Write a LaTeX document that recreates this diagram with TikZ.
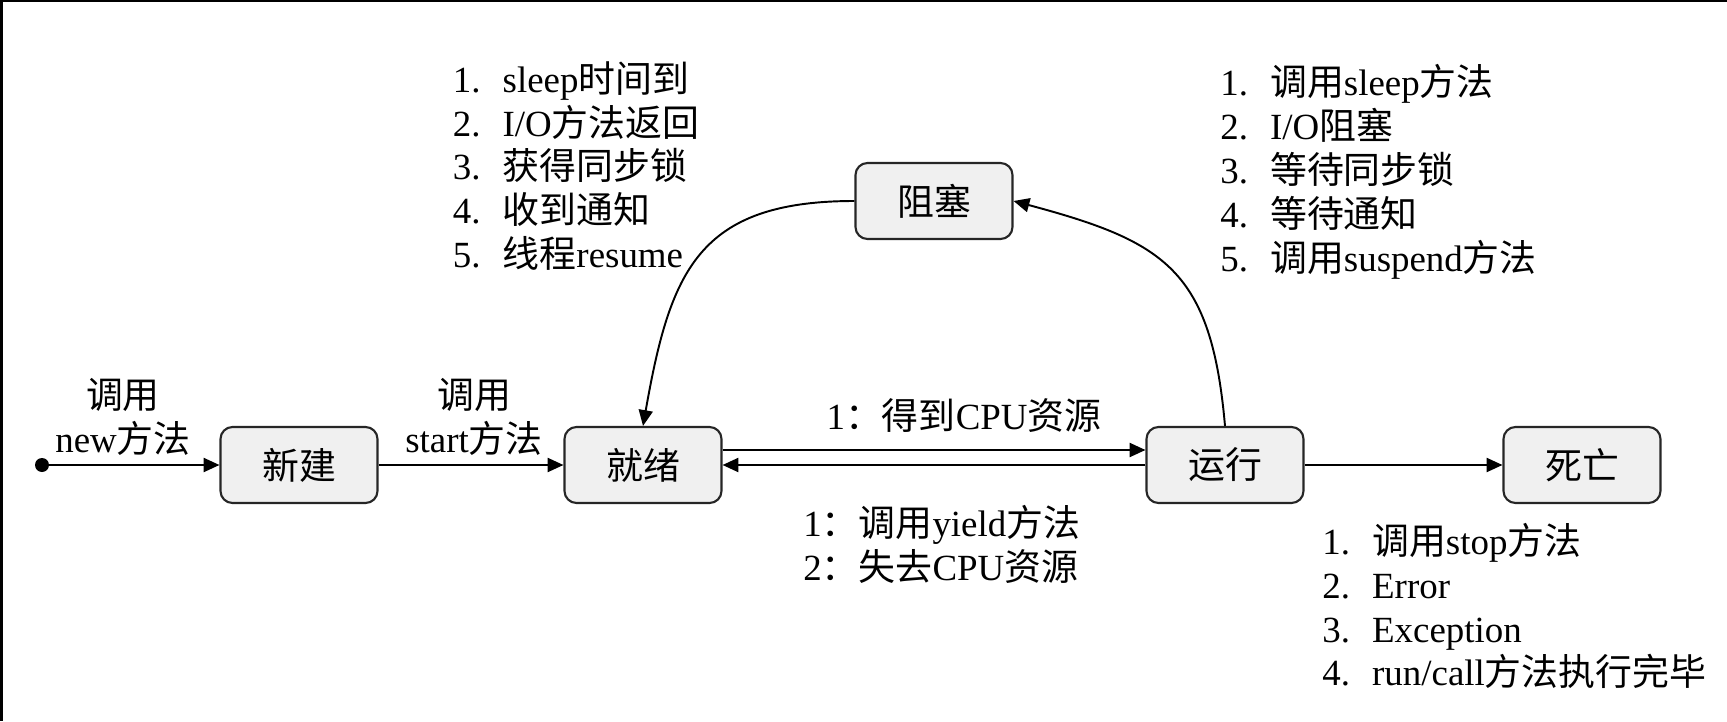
\documentclass[tikz,border=0pt]{standalone}
\usepackage{fontspec}
\setmainfont{Liberation Serif}
\newfontfamily\cjk{Noto Sans CJK SC}
\newcommand\zh[1]{{\cjk #1}}
\newcommand\itemno[1]{\makebox[1.35em][l]{#1}}
\usetikzlibrary{arrows.meta}

\begin{document}
\begin{tikzpicture}[
    statebox/.style = {draw = black!85, line width = 1.2pt, fill = black!6, rounded corners = 0.24cm,
        minimum width = 3.14cm, minimum height = 1.52cm, inner sep = 0pt, font = \fontsize{21}{25}\selectfont\cjk},
    flow/.style = {-{Triangle[length = 9pt, width = 8pt]}, line width = 1.1pt},
    notes/.style = {align = left, inner sep = 0pt, font = \fontsize{21}{25}\selectfont}
  ]
    \useasboundingbox (0, 0) rectangle (34.54, 14.42);
    \fill [black] (0, 14.37) rectangle (34.54, 14.42);
    \fill [black] (0, 0) rectangle (0.05, 14.42);
    \draw (0.84, 5.12) node[circle, inner sep = 0pt, minimum size = 0.28cm, fill = black] (start) {};
    \node [statebox] at (5.98, 5.12) (xinjian) {新建};
    \node [statebox] at (12.86, 5.12) (jiuxu) {就绪};
    \node [statebox] at (24.5, 5.12) (yunxing) {运行};
    \node [statebox] at (31.64, 5.12) (siwang) {死亡};
    \node [statebox] at (18.68, 10.4) (zuse) {阻塞};
    \draw [flow] (start) to (xinjian);
    \draw [flow] (xinjian) to (jiuxu);
    \draw [flow] ([yshift = 0.3cm] jiuxu.east) to ([yshift = 0.3cm] yunxing.west);
    \draw [flow] (yunxing) to (jiuxu);
    \draw [flow] (yunxing) to (siwang);
    \draw [flow] (zuse.west) to [out = 180, in = 80, looseness = 1.3] (jiuxu.north);
    \draw [flow] (yunxing.north) to [out = 95, in = -15, looseness = 1.3] (zuse.east);
    \node [notes, align = center] at (2.46, 6.08) (newlab) {\zh{调用}\\new\zh{方法}};
    \node [notes, align = center] at (9.48, 6.08) (startlab) {\zh{调用}\\start\zh{方法}};
    \node [notes] at (19.28, 6.1) (cpulab) {1\zh{：得到}CPU\zh{资源}};
    \node [notes, anchor = west] at (16.06, 3.53) (yieldlab) {1\zh{：调用}yield\zh{方法}\\2\zh{：失去}CPU\zh{资源}};
    \node [notes, anchor = west] at (9.05, 11.1) (wakelab) {\itemno{1.}sleep\zh{时间到}\\
        \itemno{2.}I/O\zh{方法返回}\\
        \itemno{3.}\zh{获得同步锁}\\
        \itemno{4.}\zh{收到通知}\\
        \itemno{5.}\zh{线程}resume};
    \node [notes, anchor = west] at (24.4, 10.98) (blocklab) {\itemno{1.}\zh{调用}sleep\zh{方法}\\
        \itemno{2.}I/O\zh{阻塞}\\
        \itemno{3.}\zh{等待同步锁}\\
        \itemno{4.}\zh{等待通知}\\
        \itemno{5.}\zh{调用}suspend\zh{方法}};
    \node [notes, anchor = west] at (26.44, 2.3) (deadlab) {\itemno{1.}\zh{调用}stop\zh{方法}\\
        \itemno{2.}Error\\
        \itemno{3.}Exception\\
        \itemno{4.}run/call\zh{方法执行完毕}};
\end{tikzpicture}
\end{document}
